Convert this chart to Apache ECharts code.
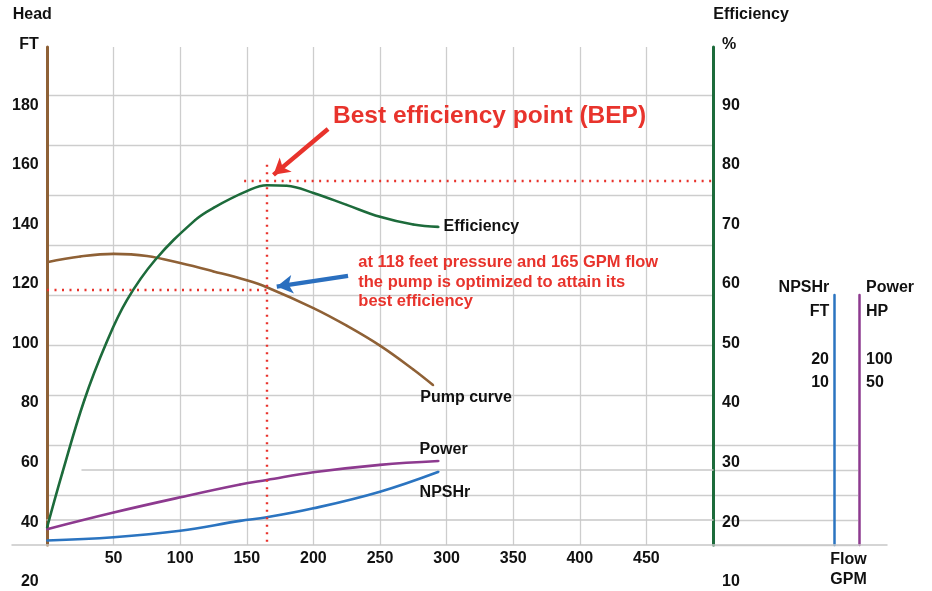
<!DOCTYPE html>
<html>
<head>
<meta charset="utf-8">
<title>Pump curve and best efficiency point</title>
<script src="https://cdn.jsdelivr.net/npm/echarts@6/dist/echarts.min.js"></script>
<style>
  html, body { margin: 0; padding: 0; background: #fff; }
  #main { width: 932px; height: 591px; }
</style>
</head>
<body>
<div id="main"></div>
<script>
// tick labels
var flowTicks = [50, 100, 150, 200, 250, 300, 350, 400, 450];
var headTicks = [20, 40, 60, 80, 100, 120, 140, 160, 180];
var effTicks = [10, 20, 30, 40, 50, 60, 70, 80, 90];
var npshTicks = [10, 20];
var powerTicks = [50, 100];

// pump curve: flow (GPM) / head (FT)
var pumpFlow = [0, 25, 50, 75, 100, 125, 150, 165, 200, 225, 250, 275, 290];
var pumpHead = [127.3, 129.2, 130.1, 129.4, 127.0, 124.2, 121.2, 118.9, 111.9, 106.0, 99.3, 91.3, 86.0];

// efficiency curve: flow (GPM) / efficiency (%)
var effFlow = [0, 11.5, 28, 44.5, 60, 81, 111, 125, 150, 165, 180, 200, 225, 250, 275, 294];
var effPct = [19.1, 28.3, 40.5, 50.1, 57.3, 64.0, 70.7, 72.8, 75.6, 76.6, 76.5, 75.3, 73.3, 71.3, 70.0, 69.6];

// power and NPSHr, drawn against the head scale
var powerFlow = [0, 50, 100, 145, 165, 200, 250, 294];
var powerVal = [37.7, 43.3, 48.4, 52.7, 54.2, 56.8, 59.3, 60.6];
var npshFlow = [0, 50, 100, 145, 165, 200, 250, 294];
var npshVal = [33.9, 35.0, 37.2, 40.5, 41.7, 44.7, 50.3, 57.0];

// best efficiency point
var bepFlow = 165;
var bepHead = 118;
var bepEff = 77.3;
var bepTop = 160;
var bepEffStart = 148;

// annotation arrows [from, to] in flow / head
var redArrow = [[211, 172], [170, 156.6]];
var blueArrow = [[226, 122.7], [172.5, 119.1]];

var BROWN = '#8f6136', GREEN = '#1d6b3b', PURPLE = '#8d3a8f', BLUE = '#2b74c0', RED = '#e8332c';
var FONT = '"Liberation Sans", Arial, Helvetica, sans-serif';
var gridLine = { color: '#cdcdcd', width: 1.3 };
var tickFont = { color: '#111', fontSize: 16, fontWeight: 'bold', fontFamily: FONT };

function pairs(xs, ys) {
  return xs.map(function (x, i) { return [x, ys[i]]; });
}
function pick(list) {
  return function (v) { return list.indexOf(v) >= 0 ? String(v) : ''; };
}
function endLabel(text, count, dx, dy) {
  return {
    show: true, position: 'inside', align: 'left', verticalAlign: 'middle',
    offset: [dx, dy], color: '#111', fontSize: 16, fontWeight: 'bold', fontFamily: FONT,
    formatter: function (p) { return p.dataIndex === count - 1 ? text : ''; }
  };
}
function curve(name, yIndex, xs, ys, color, label) {
  return {
    name: name, type: 'line', xAxisIndex: 0, yAxisIndex: yIndex,
    data: pairs(xs, ys), smooth: 0.4,
    symbol: 'circle', symbolSize: 2, itemStyle: { color: color },
    lineStyle: { color: color, width: 2.6 },
    label: label, emphasis: { disabled: true }
  };
}
function hiddenAxis(g) {
  return { gridIndex: g, type: 'value', min: 0, max: 1, show: false };
}
function ruleAxis(g, pos) {
  return {
    gridIndex: g, type: 'value', min: 0, max: 1, position: pos,
    axisLine: { show: true, onZero: false, lineStyle: { color: '#c8c8c8', width: 1.5 } },
    axisTick: { show: false }, axisLabel: { show: false }, splitLine: { show: false }
  };
}
function txt(s, x, y, align, extra) {
  var style = {
    text: s, x: x, y: y, align: align, verticalAlign: 'middle',
    fill: '#111', fontSize: 16, fontWeight: 'bold', fontFamily: FONT
  };
  for (var k in extra) style[k] = extra[k];
  return { type: 'text', silent: true, z: 100, style: style };
}

var myChart = echarts.init(document.getElementById('main'));

var pumpSeries = curve('Pump curve', 0, pumpFlow, pumpHead, BROWN,
  endLabel('Pump curve', pumpFlow.length, -13, 12.5));
pumpSeries.markLine = {
  silent: true, symbol: 'none', label: { show: false },
  lineStyle: { color: RED, width: 2.4, type: [2, 5.5] },
  data: [
    [{ coord: [0, bepHead] }, { coord: [bepFlow, bepHead] }],
    [{ coord: [bepFlow, bepTop] }, { coord: [bepFlow, 32.5] }]
  ]
};

var effSeries = curve('Efficiency', 1, effFlow, effPct, GREEN,
  endLabel('Efficiency', effFlow.length, 5, 0));
effSeries.markLine = {
  silent: true, symbol: 'none', label: { show: false },
  lineStyle: { color: RED, width: 2.4, type: [2, 5.5] },
  data: [[{ coord: [bepEffStart, bepEff] }, { coord: [500, bepEff] }]]
};

var powerSeries = curve('Power', 0, powerFlow, powerVal, PURPLE,
  endLabel('Power', powerFlow.length, -19, -11));

var npshSeries = curve('NPSHr', 0, npshFlow, npshVal, BLUE,
  endLabel('NPSHr', npshFlow.length, -19, 21));
npshSeries.markLine = {
  silent: true, symbol: ['none', 'arrow'], symbolSize: [14, 16], label: { show: false },
  lineStyle: { width: 4.5, type: 'solid' },
  data: [
    [{ coord: redArrow[0], lineStyle: { color: RED } }, { coord: redArrow[1] }],
    [{ coord: blueArrow[0], lineStyle: { color: '#2a6fbf' } }, { coord: blueArrow[1] }]
  ]
};

var option = {
  animation: false,
  textStyle: { fontFamily: FONT },
  grid: [
    { left: 47, right: 219, top: 47, bottom: 46 },      // main plot
    { left: 834, right: 73, top: 295, bottom: 46 },     // NPSHr / Power scales
    { left: 47, right: 219, top: 105.3, bottom: 9.3 },  // head / efficiency tick labels
    { left: 12, right: 45, top: 500, bottom: 46 },      // base line
    { left: 713, right: 74, top: 445, bottom: 46 },     // rows right of the plot
    { left: 82, right: 219, top: 470, bottom: 46 },
    { left: 47, right: 219, top: 520, bottom: 46 }
  ],
  xAxis: [
    {
      gridIndex: 0, type: 'value', min: 0, max: 500, interval: 50,
      axisLine: { show: false, onZero: false }, axisTick: { show: false },
      axisLabel: Object.assign({ margin: 6, formatter: pick(flowTicks) }, tickFont),
      splitLine: { show: true, lineStyle: gridLine }
    },
    hiddenAxis(1),
    hiddenAxis(2),
    ruleAxis(3, 'bottom'),
    hiddenAxis(4),
    ruleAxis(5, 'top'),
    ruleAxis(6, 'top')
  ],
  yAxis: [
    { // 0 head FT
      gridIndex: 0, type: 'value', position: 'left', min: 32.4, max: 199.5,
      axisLine: { show: true, onZero: false, lineStyle: { color: BROWN, width: 3 } },
      axisTick: { show: false }, axisLabel: { show: false }, splitLine: { show: false }
    },
    { // 1 efficiency %
      gridIndex: 0, type: 'value', position: 'right', min: 16.2, max: 99.8,
      axisLine: { show: true, onZero: false, lineStyle: { color: GREEN, width: 3 } },
      axisTick: { show: false }, axisLabel: { show: false }, splitLine: { show: false }
    },
    { // 2 row lines of the plot
      gridIndex: 0, type: 'value', position: 'left', min: 0, max: 498, interval: 50,
      axisLine: { show: false, onZero: false }, axisTick: { show: false }, axisLabel: { show: false },
      splitLine: { show: true, showMinLine: false, showMaxLine: false, lineStyle: gridLine }
    },
    { // 3 NPSHr FT
      gridIndex: 1, type: 'value', position: 'left', min: -60, max: 48, interval: 10,
      axisLine: { show: true, onZero: false, lineStyle: { color: BLUE, width: 2.5 } },
      axisTick: { show: false }, splitLine: { show: false },
      axisLabel: Object.assign({ margin: 5, formatter: pick(npshTicks) }, tickFont)
    },
    { // 4 Power HP
      gridIndex: 1, type: 'value', position: 'right', min: -300, max: 240, interval: 50,
      axisLine: { show: true, onZero: false, lineStyle: { color: PURPLE, width: 2.5 } },
      axisTick: { show: false }, splitLine: { show: false },
      axisLabel: Object.assign({ margin: 7, formatter: pick(powerTicks) }, tickFont)
    },
    { // 5 head tick labels
      gridIndex: 2, type: 'value', position: 'left', min: 20, max: 180, interval: 20,
      axisLine: { show: false, onZero: false }, axisTick: { show: false }, splitLine: { show: false },
      axisLabel: Object.assign({ margin: 8.3, formatter: pick(headTicks) }, tickFont)
    },
    { // 6 efficiency tick labels
      gridIndex: 2, type: 'value', position: 'right', min: 10, max: 90, interval: 10,
      axisLine: { show: false, onZero: false }, axisTick: { show: false }, splitLine: { show: false },
      axisLabel: Object.assign({ margin: 9, formatter: pick(effTicks) }, tickFont)
    },
    hiddenAxis(3),
    { // 8 rows right of the plot
      gridIndex: 4, type: 'value', min: 0, max: 4, interval: 1,
      axisLine: { show: false, onZero: false }, axisTick: { show: false }, axisLabel: { show: false },
      splitLine: { show: true, lineStyle: gridLine }
    },
    hiddenAxis(5),
    hiddenAxis(6)
  ],
  series: [pumpSeries, effSeries, powerSeries, npshSeries],
  graphic: [
    txt('Head', 12.7, 15, 'left'),
    txt('FT', 38.7, 45, 'right'),
    txt('Efficiency', 713.3, 15, 'left'),
    txt('%', 722, 45, 'left'),
    txt('NPSHr', 829.3, 288, 'right'),
    txt('FT', 829.3, 311.7, 'right'),
    txt('Power', 866, 288, 'left'),
    txt('HP', 866, 311.7, 'left'),
    txt('Flow', 848.5, 559.3, 'center'),
    txt('GPM', 848.5, 579.3, 'center'),
    txt('Best efficiency point (BEP)', 333, 116.5, 'left', { fill: RED, fontSize: 24.5 }),
    txt('at 118 feet pressure and 165 GPM flow\nthe pump is optimized to attain its\nbest efficiency',
      358.3, 282, 'left', { fill: RED, fontSize: 16.5, lineHeight: 19.4 })
  ]
};

myChart.setOption(option);
</script>
</body>
</html>
